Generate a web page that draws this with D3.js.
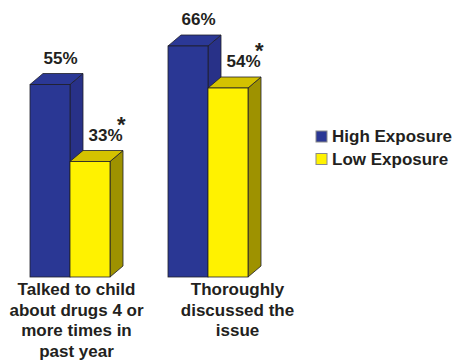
<!DOCTYPE html>
<html>
<head>
<meta charset="utf-8">
<script src="https://cdn.jsdelivr.net/npm/d3@7"></script>
<style>
  html, body { margin: 0; padding: 0; background: #fff; }
  svg { display: block; }
  text { font-family: "Liberation Sans", Arial, Helvetica, sans-serif; font-weight: bold; fill: #231f20; }
</style>
</head>
<body>
<svg id="chart" width="454" height="360"></svg>
<script>
// Data
const categories = [
  ["Talked to child", "about drugs 4 or", "more times in", "past year"],
  ["Thoroughly", "discussed the", "issue"]
];
const seriesNames = ["High Exposure", "Low Exposure"];
const highExposure = [55, 66];
const lowExposure = [33, 54];
const lowSignificant = [true, true];

// Layout
const depthX = 13, depthY = 11;
const labelNudge = [0, 23];
const palette = {
  "High Exposure": { front: "#2a3794", top: "#2b3896", side: "#283188" },
  "Low Exposure":  { front: "#fff200", top: "#d4c200", side: "#9e9200" }
};

const svg = d3.select("#chart");

const catIdx = categories.map((_, i) => i);
const x0 = d3.scaleBand().domain(catIdx).range([30, 248]).paddingInner(58 / 138).paddingOuter(0);
const x1 = d3.scaleBand().domain(seriesNames).range([0, x0.bandwidth()]).padding(0);
const y = d3.scaleLinear().domain([0, 100]).range([277, -73]);

const rows = [];
catIdx.forEach(i => {
  rows.push({ cat: i, series: "High Exposure", value: highExposure[i], sig: false });
  rows.push({ cat: i, series: "Low Exposure", value: lowExposure[i], sig: lowSignificant[i] });
});

const bars = svg.append("g").selectAll("g.bar")
  .data(rows)
  .join("g")
  .attr("class", "bar");

bars.each(function (d) {
  const g = d3.select(this);
  const xl = x0(d.cat) + x1(d.series);
  const xr = xl + x1.bandwidth();
  const yt = y(d.value);
  const yb = y(0);
  const c = palette[d.series];
  const line = pts => "M" + pts.map(p => p.join(",")).join("L") + "Z";
  // side face
  g.append("path")
    .attr("d", line([[xr, yt], [xr + depthX, yt - depthY], [xr + depthX, yb - depthY], [xr, yb]]))
    .attr("fill", c.side).attr("stroke", "#1e1e28").attr("stroke-width", 0.8).attr("stroke-linejoin", "round");
  // top face
  g.append("path")
    .attr("d", line([[xl, yt], [xl + depthX, yt - depthY], [xr + depthX, yt - depthY], [xr, yt]]))
    .attr("fill", c.top).attr("stroke", "#1e1e28").attr("stroke-width", 0.8).attr("stroke-linejoin", "round");
  // front face
  g.append("rect")
    .attr("x", xl).attr("y", yt).attr("width", xr - xl).attr("height", yb - yt)
    .attr("fill", c.front).attr("stroke", "#1e1e28").attr("stroke-width", 0.8);
});

// Value labels; significant values carry a raised asterisk over the % sign
const labelShift = { "High Exposure": 10.5, "Low Exposure": 15.5 };
rows.forEach(d => {
  const cx = x0(d.cat) + x1(d.series) + x1.bandwidth() / 2 + labelShift[d.series];
  const by = y(d.value) - 21;
  const t = svg.append("text")
    .attr("y", by)
    .attr("font-size", 17);
  const num = t.append("tspan").text(d.value + "%");
  const w = num.node().getComputedTextLength();
  t.attr("x", cx - w / 2);
  if (d.sig) {
    t.append("tspan")
      .attr("dx", -5.5).attr("dy", -9)
      .attr("font-size", 22)
      .text("*");
  }
});

// Category labels
catIdx.forEach(i => {
  const cx = x0(i) + (x0.bandwidth() + depthX) / 2 + labelNudge[i];
  const t = svg.append("text")
    .attr("text-anchor", "middle")
    .attr("font-size", 17)
    .attr("y", 295);
  categories[i].forEach((ln, k) => {
    t.append("tspan").attr("x", cx).attr("dy", k === 0 ? 0 : 20.6).text(ln);
  });
});

// Legend
const legend = svg.append("g").attr("transform", "translate(316,131)");
seriesNames.forEach((s, k) => {
  const g = legend.append("g").attr("transform", `translate(0,${k * 22.5})`);
  g.append("rect").attr("x", 0).attr("y", 0).attr("width", 11).attr("height", 11)
    .attr("fill", palette[s].front).attr("stroke", "#8a8a8a").attr("stroke-width", 1);
  g.append("text").attr("x", 16).attr("y", 11).attr("font-size", 17).text(s);
});
</script>
</body>
</html>
